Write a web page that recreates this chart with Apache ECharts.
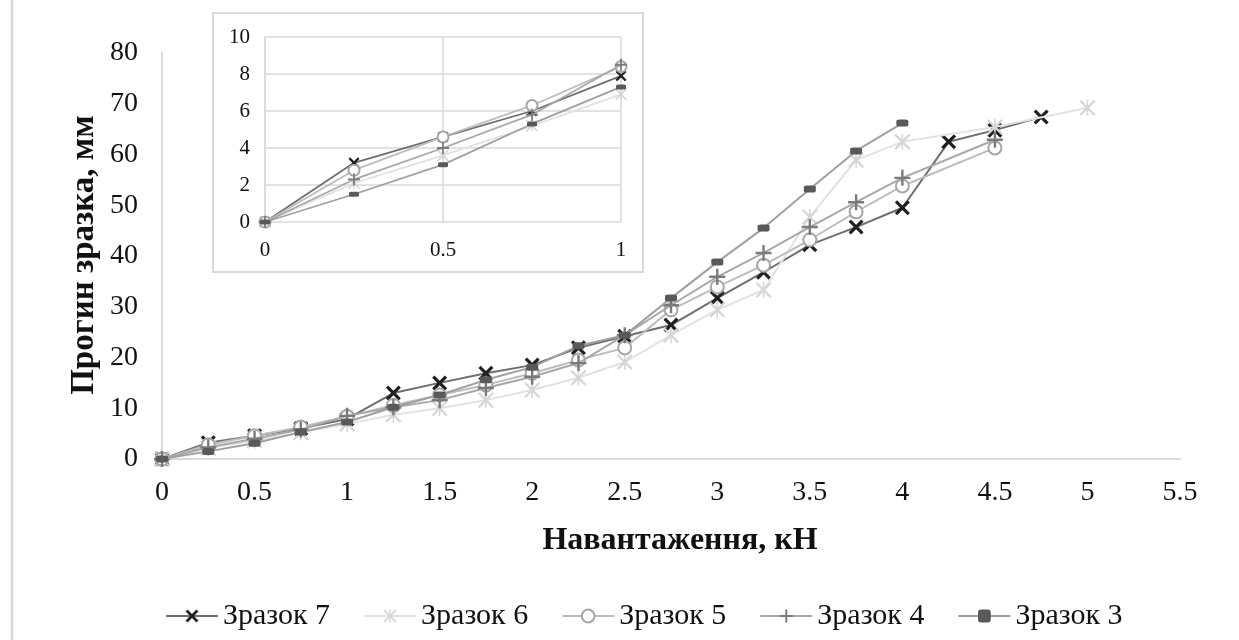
<!DOCTYPE html>
<html>
<head>
<meta charset="utf-8">
<script src="https://cdn.jsdelivr.net/npm/echarts@6/dist/echarts.min.js"></script>
<style>
html,body{margin:0;padding:0;background:#fff;}
#chart{width:1239px;height:640px;}
</style>
</head>
<body>
<div id="chart"></div>
<script>
// ---- data (load in kN, deflection in mm) ----
var names = ['Зразок 7', 'Зразок 6', 'Зразок 5', 'Зразок 4', 'Зразок 3'];
var xTicks = [0, 0.5, 1, 1.5, 2, 2.5, 3, 3.5, 4, 4.5, 5, 5.5];

var loadBase = [0, 0.25, 0.5, 0.75, 1, 1.25, 1.5, 1.75, 2, 2.25, 2.5, 2.75, 3, 3.25, 3.5, 3.75, 4];

var x7 = loadBase.concat([4.25, 4.5, 4.75]);
var y7 = [0, 3.2, 4.6, 6.0, 7.9, 13.0, 15.0, 16.9, 18.5, 21.9, 24.2, 26.4, 31.7, 36.8, 42.2, 45.7, 49.5, 62.5, 64.8, 67.4];

var x6 = loadBase.concat([4.5, 5]);
var y6 = [0, 2.1, 3.6, 5.2, 6.9, 8.7, 10.0, 11.6, 13.6, 16.0, 19.1, 24.4, 29.4, 33.3, 47.7, 58.9, 62.5, 65.4, 69.2];

var x5 = loadBase.concat([4.5]);
var y5 = [0, 2.8, 4.6, 6.3, 8.4, 10.6, 12.6, 14.6, 16.9, 19.5, 21.9, 29.4, 33.9, 38.2, 43.2, 48.7, 53.8, 61.3];

var x4 = loadBase.concat([4.5]);
var y4 = [0, 2.3, 4.0, 5.8, 8.5, 10.2, 11.6, 14.0, 16.2, 18.9, 24.4, 30.3, 35.9, 40.6, 45.7, 50.6, 55.4, 62.9];

var x3 = loadBase;
var y3 = [0, 1.5, 3.1, 5.3, 7.3, 10.2, 12.6, 15.6, 18.1, 22.3, 24.4, 31.7, 38.8, 45.5, 53.2, 60.7, 66.2];

// ---- styling ----
var FONT = '"Liberation Serif", "Times New Roman", serif';
var SYM_X = 'path://M3,0 L10,7 L17,0 L20,3 L13,10 L20,17 L17,20 L10,13 L3,20 L0,17 L7,10 L0,3 Z';
var SYM_AST = 'path://M2,0 L10,8 L18,0 L20,2 L12,10 L20,18 L18,20 L10,12 L2,20 L0,18 L8,10 L0,2 Z M9,0 L11,0 L11,20 L9,20 Z';
var SYM_PLUS = 'path://M8.5,0 L11.5,0 L11.5,8.5 L20,8.5 L20,11.5 L11.5,11.5 L11.5,20 L8.5,20 L8.5,11.5 L0,11.5 L0,8.5 L8.5,8.5 Z';

var styles = [
  {sym: SYM_X, size: 15, sizeS: 11, color: '#1f1f1f', line: '#6e6e6e'},
  {sym: SYM_AST, size: 16, sizeS: 12, color: '#d6d6d6', line: '#e2e2e2'},
  {sym: 'emptyCircle', size: 13, sizeS: 11, color: '#a6a6a6', line: '#bdbdbd'},
  {sym: SYM_PLUS, size: 16, sizeS: 12, color: '#7a7a7a', line: '#a8a8a8'},
  {sym: 'roundRect', size: [12, 7], sizeS: [10, 5], color: '#595959', line: '#a0a0a0'}
];
var xs = [x7, x6, x5, x4, x3];
var ys = [y7, y6, y5, y4, y3];

function pairs(xa, ya, maxX) {
  var out = [];
  for (var i = 0; i < ya.length; i++) {
    if (maxX === undefined || xa[i] <= maxX) out.push([xa[i], ya[i]]);
  }
  return out;
}

var series = [];
for (var k = 0; k < names.length; k++) {
  var st = styles[k];
  series.push({
    name: names[k], type: 'line', xAxisIndex: 0, yAxisIndex: 0,
    data: pairs(xs[k], ys[k]),
    symbol: st.sym, symbolSize: st.size, showAllSymbol: true,
    itemStyle: {color: st.color, borderColor: st.color, borderWidth: st.sym === 'emptyCircle' ? 2.5 : 0},
    lineStyle: {color: st.line, width: 2},
    z: 2 + k, animation: false
  });
}
for (var k2 = 0; k2 < names.length; k2++) {
  var st2 = styles[k2];
  series.push({
    name: names[k2], type: 'line', xAxisIndex: 1, yAxisIndex: 1,
    data: pairs(xs[k2], ys[k2], 1),
    symbol: st2.sym, symbolSize: st2.sizeS, showAllSymbol: true,
    itemStyle: {color: st2.color, borderColor: st2.color, borderWidth: st2.sym === 'emptyCircle' ? 2.5 : 0},
    lineStyle: {color: st2.line, width: 1.8},
    z: 12 + k2, animation: false
  });
}

var chart = echarts.init(document.getElementById('chart'), null, {renderer: 'canvas'});
chart.setOption({
  backgroundColor: '#ffffff',
  animation: false,
  textStyle: {fontFamily: FONT},
  grid: [
    {left: 162, right: 59, top: 53, bottom: 181, containLabel: false},
    {left: 265, right: 618, top: 37, bottom: 418, containLabel: false, z: 10}
  ],
  xAxis: [
    {
      type: 'value', gridIndex: 0, min: 0, max: 5.5, interval: 0.5,
      axisLine: {show: true, lineStyle: {color: '#d9d9d9', width: 2}},
      axisTick: {show: false}, splitLine: {show: false},
      axisLabel: {fontFamily: FONT, fontSize: 28, color: '#111', margin: 20,
        formatter: function (v) { return xTicks.indexOf(v) >= 0 ? String(v) : ''; }}
    },
    {
      type: 'value', gridIndex: 1, min: 0, max: 1, interval: 0.5,
      axisLine: {show: false}, axisTick: {show: false},
      splitLine: {show: true, lineStyle: {color: '#d9d9d9', width: 1.5}},
      axisLabel: {fontFamily: FONT, fontSize: 21, color: '#111', margin: 18}
    }
  ],
  yAxis: [
    {
      type: 'value', gridIndex: 0, min: 0, max: 80, interval: 10,
      axisLine: {show: true, lineStyle: {color: '#d9d9d9', width: 2}},
      axisTick: {show: false}, splitLine: {show: false},
      axisLabel: {fontFamily: FONT, fontSize: 28, color: '#111', margin: 24}
    },
    {
      type: 'value', gridIndex: 1, min: 0, max: 10, interval: 2,
      axisLine: {show: true, lineStyle: {color: '#d9d9d9', width: 1.5}},
      axisTick: {show: false},
      splitLine: {show: true, lineStyle: {color: '#d9d9d9', width: 1.5}},
      axisLabel: {fontFamily: FONT, fontSize: 21, color: '#111', margin: 15}
    }
  ],
  legend: {
    data: names, left: 160, top: 596, itemWidth: 52, itemHeight: 16, itemGap: 33,
    textStyle: {fontFamily: FONT, fontSize: 30, color: '#111'}
  },
  graphic: [
    {type: 'rect', z: -10, shape: {x: 213, y: 13, width: 430, height: 259},
     style: {fill: '#ffffff', stroke: '#d9d9d9', lineWidth: 2}},
    {type: 'line', z: -10, shape: {x1: 12, y1: 0, x2: 12, y2: 640},
     style: {stroke: '#d9d9d9', lineWidth: 2.5}},
    {type: 'text', x: 680, y: 541, z: 20,
     style: {text: 'Навантаження, кН', font: 'bold 32px ' + FONT, fill: '#111',
             textAlign: 'center', textVerticalAlign: 'middle'}},
    {type: 'text', x: 84, y: 255, rotation: Math.PI / 2, z: 20,
     style: {text: 'Прогин зразка, мм', font: 'bold 33px ' + FONT, fill: '#111',
             textAlign: 'center', textVerticalAlign: 'middle'}}
  ],
  series: series
});
</script>
</body>
</html>
